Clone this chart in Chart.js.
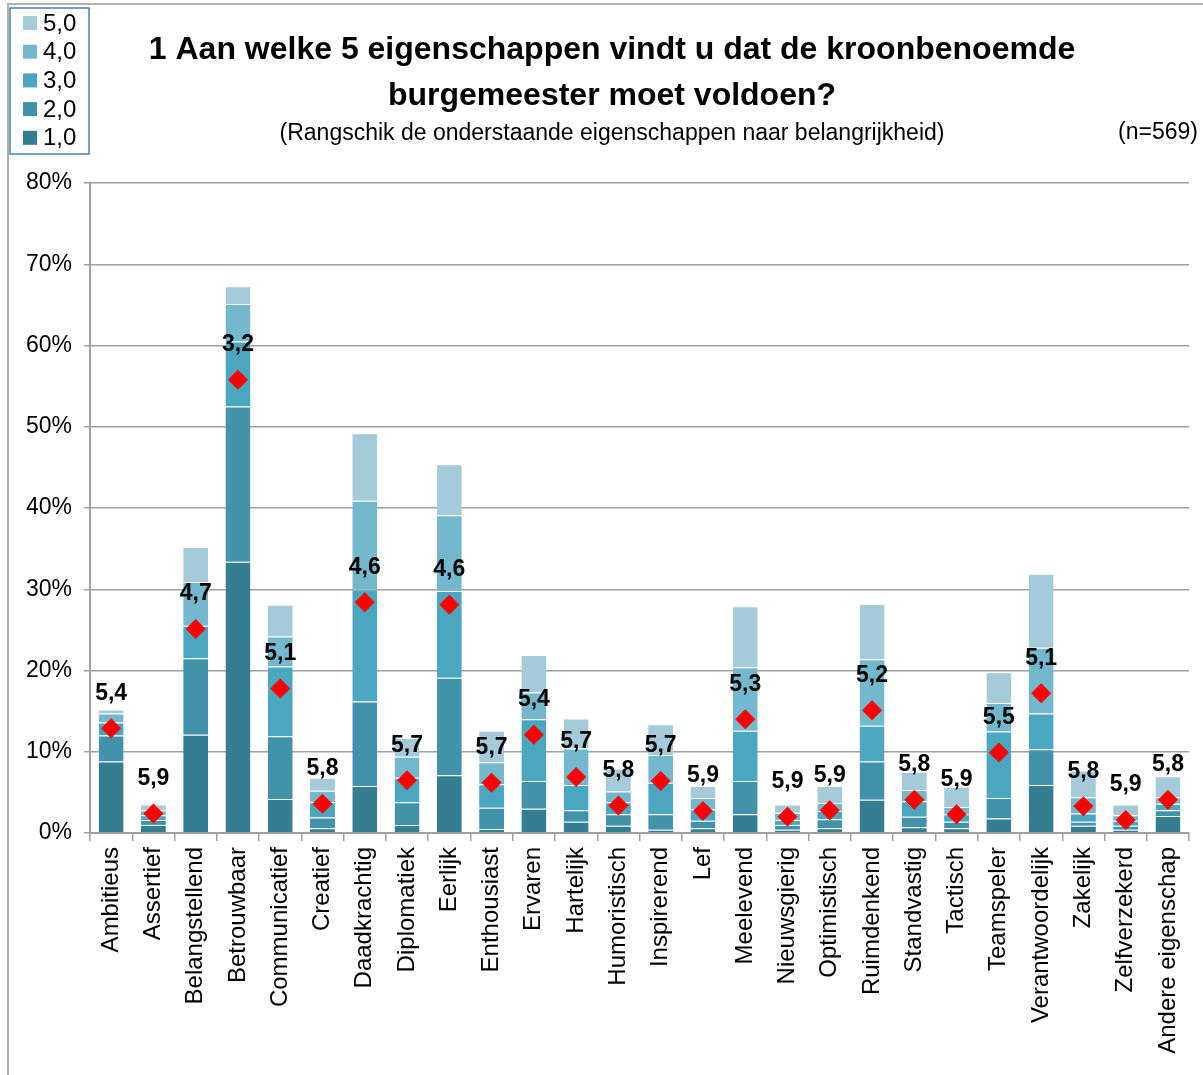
<!DOCTYPE html>
<html>
<head>
<meta charset="utf-8">
<script src="https://cdn.jsdelivr.net/npm/chart.js@4.4.1/dist/chart.umd.min.js"></script>
<style>
  body { margin: 0; background: #fff; }
  #wrap { width: 1203px; height: 1075px; position: relative; }
</style>
</head>
<body>
<div id="wrap"><canvas id="chart" width="1203" height="1075"></canvas></div>
<script>
const categories = ["Ambitieus", "Assertief", "Belangstellend", "Betrouwbaar", "Communicatief", "Creatief",
  "Daadkrachtig", "Diplomatiek", "Eerlijk", "Enthousiast", "Ervaren", "Hartelijk", "Humoristisch",
  "Inspirerend", "Lef", "Meelevend", "Nieuwsgierig", "Optimistisch", "Ruimdenkend", "Standvastig",
  "Tactisch", "Teamspeler", "Verantwoordelijk", "Zakelijk", "Zelfverzekerd", "Andere eigenschap"];

// percentage of respondents per rank position
const rank1 = [8.8, 1.0, 12.1, 33.4, 4.2, 0.6, 5.8, 1.0, 7.1, 0.5, 3.0, 1.4, 0.9, 0.4, 0.6, 2.3, 0.4, 0.6, 4.1, 0.7, 0.6, 1.8, 5.9, 0.9, 0.4, 2.1];
const rank2 = [3.2, 0.6, 9.4, 19.1, 7.7, 1.3, 10.4, 2.8, 12.0, 2.6, 3.4, 1.4, 1.4, 1.9, 0.9, 4.1, 0.6, 1.1, 4.7, 1.3, 0.8, 2.5, 4.4, 0.5, 0.5, 0.7];
const rank3 = [1.6, 0.6, 4.0, 8.0, 8.6, 1.9, 13.8, 3.0, 10.7, 2.9, 7.6, 3.1, 1.5, 3.9, 1.4, 6.2, 0.6, 1.0, 4.4, 1.9, 0.9, 8.2, 4.4, 1.0, 0.6, 0.8];
const rank4 = [1.1, 0.6, 5.4, 4.6, 3.7, 1.4, 10.9, 2.6, 9.3, 2.7, 3.3, 4.5, 1.3, 3.4, 1.4, 7.8, 0.9, 1.0, 8.2, 1.4, 0.9, 3.5, 8.1, 2.0, 0.7, 0.8];
const rank5 = [0.5, 0.7, 4.3, 2.2, 3.9, 1.6, 8.3, 2.3, 6.3, 3.9, 4.6, 3.7, 2.8, 3.8, 1.5, 7.5, 1.0, 2.1, 6.8, 2.2, 2.5, 3.8, 9.1, 3.3, 1.3, 2.6];

// red markers and their average-rank labels
const markerValues = [12.9, 2.4, 25.1, 55.8, 17.8, 3.6, 28.4, 6.5, 28.1, 6.2, 12.1, 6.9, 3.4, 6.4, 2.7, 14.0, 2.0, 2.8, 15.1, 4.1, 2.3, 9.9, 17.2, 3.3, 1.6, 4.1];
const avgLabels = ["5,4", "5,9", "4,7", "3,2", "5,1", "5,8", "4,6", "5,7", "4,6", "5,7", "5,4", "5,7", "5,8",
  "5,7", "5,9", "5,3", "5,9", "5,9", "5,2", "5,8", "5,9", "5,5", "5,1", "5,8", "5,9", "5,8"];

const seriesNames = ["1,0", "2,0", "3,0", "4,0", "5,0"];
const seriesColors = ["#357d91", "#4292aa", "#4ba6c0", "#74b8ce", "#a5cbdb"];
const yTicks = [0, 10, 20, 30, 40, 50, 60, 70, 80];

const FONT = "'Liberation Sans', Arial, sans-serif";
const GRID = "#a0a0a0";

const rankData = [rank1, rank2, rank3, rank4, rank5];
const barSets = rankData.map((vals, i) => ({
  type: "bar",
  label: seriesNames[i],
  data: vals,
  backgroundColor: seriesColors[i],
  borderColor: "rgba(255,255,255,0.35)",
  borderWidth: { top: 1, left: 0, right: 0, bottom: 0 },
  stack: "ranks",
  order: 1,
  barPercentage: 0.59,
  categoryPercentage: 1.0,
}));

const textPlugin = {
  id: "texts",
  afterDatasetsDraw(chart) {
    const ctx = chart.ctx;
    const meta = chart.getDatasetMeta(5);
    ctx.save();
    ctx.fillStyle = "#000";
    ctx.font = "bold 23px " + FONT;
    ctx.textAlign = "center";
    ctx.textBaseline = "middle";
    meta.data.forEach((pt, i) => {
      ctx.fillText(avgLabels[i], pt.x, pt.y - 35);
    });
    ctx.restore();
  },
  afterDraw(chart) {
    const ctx = chart.ctx;
    ctx.save();
    // outer frame
    ctx.strokeStyle = "#b0b0b0";
    ctx.lineWidth = 2;
    ctx.beginPath();
    ctx.moveTo(8, 1075);
    ctx.lineTo(8, 4);
    ctx.lineTo(1203, 4);
    ctx.stroke();

    // titles
    ctx.fillStyle = "#000";
    ctx.textAlign = "center";
    ctx.textBaseline = "middle";
    ctx.font = "bold 32px " + FONT;
    ctx.fillText("1 Aan welke 5 eigenschappen vindt u dat de kroonbenoemde", 612, 50);
    ctx.fillText("burgemeester moet voldoen?", 612, 96);
    ctx.font = "23px " + FONT;
    ctx.fillText("(Rangschik de onderstaande eigenschappen naar belangrijkheid)", 612, 134);
    ctx.textAlign = "right";
    ctx.fillText("(n=569)", 1198, 133);

    // legend (reversed)
    ctx.fillStyle = "#fff";
    ctx.fillRect(10, 8, 79, 146);
    ctx.strokeStyle = "#4a7ebb";
    ctx.lineWidth = 1.5;
    ctx.strokeRect(10, 8, 79, 146);
    ctx.font = "24px " + FONT;
    ctx.textAlign = "left";
    for (let k = 0; k < 5; k++) {
      const idx = 4 - k;
      const y = 23 + k * 28.7;
      ctx.fillStyle = seriesColors[idx];
      ctx.fillRect(23, y - 7, 14, 14);
      ctx.fillStyle = "#000";
      ctx.fillText(seriesNames[idx], 43, y + 1);
    }
    ctx.restore();
  }
};

new Chart(document.getElementById("chart"), {
  data: {
    labels: categories,
    datasets: [
      ...barSets,
      {
        type: "line",
        label: "gemiddelde",
        data: markerValues,
        showLine: false,
        stack: "marker",
        order: 0,
        pointStyle: "rectRot",
        pointRadius: 10,
        pointBackgroundColor: "#ff0000",
        pointBorderColor: "#ff0000",
        pointBorderWidth: 0,
      }
    ]
  },
  options: {
    responsive: false,
    animation: false,
    layout: { padding: { top: 183, left: 8, right: 13, bottom: 0 } },
    plugins: {
      legend: { display: false },
      tooltip: { enabled: false },
      title: { display: false }
    },
    scales: {
      x: {
        stacked: true,
        offset: true,
        grid: { display: true, offset: true, drawOnChartArea: false, drawTicks: true, tickLength: 8, color: GRID, lineWidth: 1.5 },
        border: { display: true, color: GRID, width: 2 },
        ticks: {
          autoSkip: false, minRotation: 90, maxRotation: 90, padding: 6,
          color: "#000", font: { family: FONT, size: 24 }
        },
        afterFit(scale) { scale.height = 242; }
      },
      y: {
        stacked: true,
        min: yTicks[0],
        max: yTicks[yTicks.length - 1],
        afterBuildTicks(scale) { scale.ticks = yTicks.map(v => ({ value: v })); },
        grid: { color: GRID, lineWidth: 1.5, tickLength: 6 },
        border: { display: true, color: GRID, width: 2 },
        ticks: {
          padding: 12, color: "#000", font: { family: FONT, size: 23 },
          callback: v => v + "%"
        },
        afterFit(scale) { scale.width = 82; }
      }
    }
  },
  plugins: [textPlugin]
});
</script>
</body>
</html>
